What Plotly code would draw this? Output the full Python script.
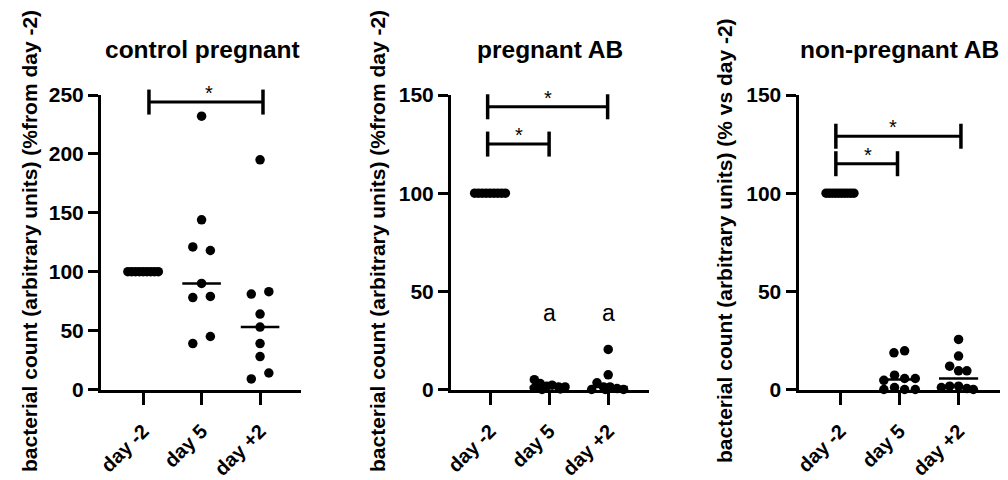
import numpy as np
import plotly.graph_objects as go

# ---------------- data ----------------
groups = ["day -2", "day 5", "day +2"]
titles = ["control pregnant", "pregnant AB", "non-pregnant AB"]
ytitles = ["bacterial count (arbitrary units) (%from day -2)",
           "bacterial count (arbitrary units) (%from day -2)",
           "bacterial count (arbitrary units) (% vs day -2)"]
yticks_ctrl = [0, 50, 100, 150, 200, 250]
yticks_ab = [0, 50, 100, 150]

# control pregnant
ctrl_dm2 = [100, 100, 100, 100, 100, 100, 100, 100, 100]
ctrl_d5 = [232, 144, 121, 118, 90, 79, 78, 45, 39]
ctrl_dp2 = [195, 83, 81, 64, 53, 39, 28, 14, 9]
# pregnant AB
pab_dm2 = [100, 100, 100, 100, 100, 100, 100, 100, 100]
pab_d5 = [5, 3, 1.7, 2.2, 1.3, 1.3, 0.7, 0, 0.3]
pab_dp2 = [20.4, 7.5, 3.4, 0, 1.3, 1.3, 0.5, 0, 0]
# non-pregnant AB
npab_dm2 = [100, 100, 100, 100, 100, 100, 100, 100, 100, 100]
npab_d5 = [19.7, 18.7, 7.3, 5.6, 5.6, 4.7, 1, 0, 0, 0]
npab_dp2 = [25.5, 17, 11.9, 9.5, 9.5, 1, 1.7, 1.7, 0.5, 0]

# significance comparisons: (from group, to group, bar height)
sig_ctrl = [(0.10, 2.05, 244)]
sig_pab = [(-0.04, 1.99, 144), (-0.04, 1.00, 125)]
sig_npab = [(-0.07, 2.04, 129), (-0.07, 0.97, 115)]
star_x_ctrl = [1.13]
star_x_pab = [0.98, 0.49]
star_x_npab = [0.89, 0.48]
letters_pab = ["", "a", "a"]
letter_y = 39

# ---------------- layout (positions / styles) ----------------
# The page body has an 8px margin, so the figure is drawn 8px smaller and
# all reference pixel positions are shifted by that margin.
PAGE_MARGIN = 8
W, H = 1008 - PAGE_MARGIN, 480 - PAGE_MARGIN


def px_x(p):
    return (p - PAGE_MARGIN) / W


def px_y(p):
    return 1 - (p - PAGE_MARGIN) / H


sp9 = [-0.26, -0.195, -0.13, -0.065, 0, 0.065, 0.13, 0.195, 0.26]
sp10 = [-0.235, -0.183, -0.131, -0.078, -0.026, 0.026, 0.078, 0.131, 0.183, 0.235]
offs = [
    [sp9,
     [0, 0, -0.15, 0.15, 0, 0.15, -0.15, 0.15, -0.15],
     [0, 0.15, -0.15, 0, 0, 0, 0, 0.15, -0.15]],
    [sp9,
     [-0.25, -0.15, -0.04, 0.05, 0.16, 0.27, -0.25, -0.12, 0.19],
     [0, 0, -0.19, -0.28, -0.08, 0.03, 0.15, 0.26, -0.05]],
    [sp10,
     [0.09, -0.09, -0.08, 0.09, 0.27, -0.26, -0.08, -0.26, 0.09, 0.27],
     [0, 0, -0.15, 0, 0.14, -0.29, -0.15, 0, 0.14, 0.25]],
]
vals = [[ctrl_dm2, ctrl_d5, ctrl_dp2], [pab_dm2, pab_d5, pab_dp2], [npab_dm2, npab_d5, npab_dp2]]
sigs = [sig_ctrl, sig_pab, sig_npab]
starxs = [star_x_ctrl, star_x_pab, star_x_npab]
yticks = [yticks_ctrl, yticks_ab, yticks_ab]

xpx = [(101, 301), (451, 649), (798.5, 1006)]
xr = [(-0.72, 2.70), (-0.66, 2.69), (-0.70, 2.80)]
ybot, ytop = 389.5, 95.0
ytitle_x = [29, 377, 724]
title_x = [202, 550, 899.5]

FONT = "Liberation Sans"
fig = go.Figure()

for i in range(3):
    xa = "x" if i == 0 else f"x{i+1}"
    ya = "y" if i == 0 else f"y{i+1}"
    # medians
    for g in range(1, 3):
        m = float(np.median(vals[i][g]))
        fig.add_trace(go.Scatter(x=[g - 0.33, g + 0.33], y=[m, m], mode="lines",
                                 line=dict(color="black", width=2.5),
                                 xaxis=xa, yaxis=ya, showlegend=False, hoverinfo="skip"))
    for g in range(3):
        xs = [g + o for o in offs[i][g]]
        fig.add_trace(go.Scatter(x=xs, y=vals[i][g], mode="markers",
                                 marker=dict(color="black", size=9.5, line=dict(width=0)),
                                 cliponaxis=False, xaxis=xa, yaxis=ya, showlegend=False))
    axkey = "xaxis" if i == 0 else f"xaxis{i+1}"
    aykey = "yaxis" if i == 0 else f"yaxis{i+1}"
    fig.update_layout(**{
        axkey: dict(domain=[px_x(xpx[i][0]), px_x(xpx[i][1])], range=list(xr[i]), anchor=ya,
                    tickvals=[0, 1, 2], ticktext=groups, tickangle=-45, automargin=False,
                    ticks="outside", ticklen=12, tickwidth=3, tickcolor="black",
                    ticklabelstandoff=7,
                    showline=True, linewidth=3, linecolor="black",
                    showgrid=False, zeroline=False, fixedrange=True,
                    tickfont=dict(family=FONT, size=20, color="black", weight="bold")),
        aykey: dict(domain=[px_y(ybot), px_y(ytop)], range=[0, yticks[i][-1]], anchor=xa,
                    tickvals=yticks[i], ticks="outside", ticklen=10, tickwidth=3,
                    tickcolor="black", showline=True, linewidth=3, linecolor="black",
                    showgrid=False, zeroline=False, fixedrange=True, automargin=False,
                    tickfont=dict(family=FONT, size=21, color="black", weight="bold")),
    })
    # significance bars (domain coordinates so caps are not clipped)
    r0, r1 = xr[i]
    top = yticks[i][-1]
    ph = ybot - ytop
    cap = 12.5 / ph
    xd = "x domain" if i == 0 else f"x{i+1} domain"
    yd = "y domain" if i == 0 else f"y{i+1} domain"
    for (a, b, h), sx in zip(sigs[i], starxs[i]):
        fa = (a - r0) / (r1 - r0)
        fb = (b - r0) / (r1 - r0)
        fh = h / top
        ln = dict(color="black", width=3)
        fig.add_shape(type="line", xref=xd, yref=yd, x0=fa, x1=fb, y0=fh, y1=fh, line=ln)
        fig.add_shape(type="line", xref=xd, yref=yd, x0=fa, x1=fa, y0=fh - cap, y1=fh + cap, line=dict(color="black", width=3.5))
        fig.add_shape(type="line", xref=xd, yref=yd, x0=fb, x1=fb, y0=fh - cap, y1=fh + cap, line=dict(color="black", width=3.5))
        fig.add_annotation(x=sx, y=h, xref=xa, yref=ya, text="*", showarrow=False,
                           yanchor="middle", yshift=9,
                           font=dict(family=FONT, size=20, color="black"))
    # panel title
    fig.add_annotation(x=px_x(title_x[i]), y=px_y(50), xref="paper", yref="paper",
                       text=titles[i], showarrow=False, xanchor="center", yanchor="middle",
                       font=dict(family=FONT, size=24.5, color="black", weight="bold"))
    # y-axis title
    fig.add_annotation(x=px_x(ytitle_x[i]), y=px_y(241), xref="paper", yref="paper",
                       text=ytitles[i], showarrow=False, textangle=-90,
                       xanchor="center", yanchor="middle",
                       font=dict(family=FONT, size=21, color="black", weight="bold"))

for g, t in enumerate(letters_pab):
    if t:
        fig.add_annotation(x=g, y=letter_y, xref="x2", yref="y2", text=t, showarrow=False,
                           yanchor="middle", font=dict(family=FONT, size=23, color="black"))

fig.update_layout(width=W, height=H, margin=dict(l=0, r=0, t=0, b=0, pad=0, autoexpand=False),
                  paper_bgcolor="white", plot_bgcolor="white", showlegend=False)
fig.write_html("out.html")
